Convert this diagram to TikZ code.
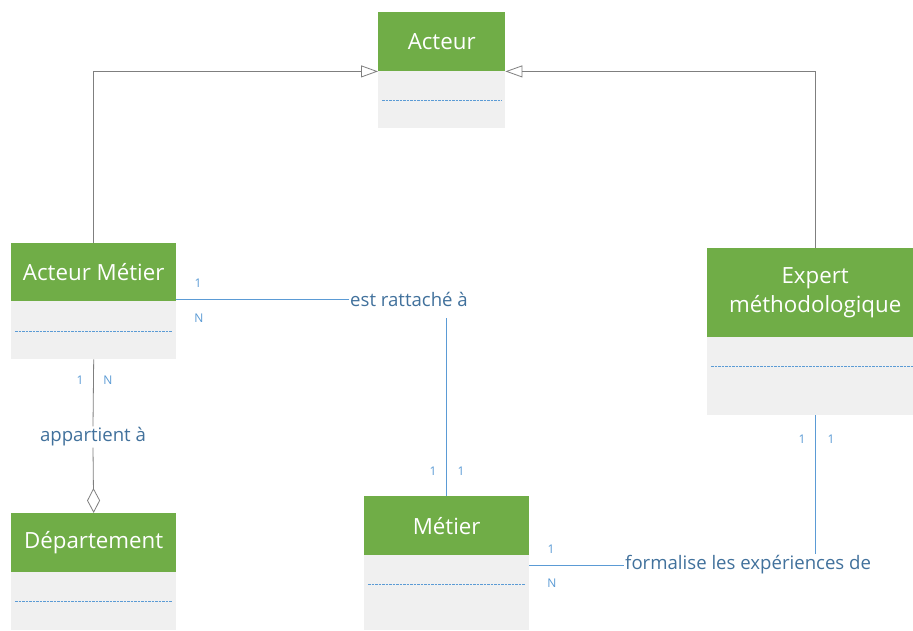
\documentclass[tikz,border=0pt]{standalone}
\usepackage{fontspec}
\setmainfont{Open Sans}
\usetikzlibrary{arrows.meta,calc}
\definecolor{hgreen}{HTML}{70AD47}
\definecolor{bgray}{HTML}{F0F0F0}
\definecolor{dblue}{HTML}{5B9BD5}
\definecolor{lblue}{HTML}{41719C}
\definecolor{lgray}{HTML}{7F7F7F}
\tikzset{
  head/.style={fill=hgreen, draw=none, anchor=north west, inner sep=0pt, text=white,
    font=\fontsize{22.3}{29}\selectfont, align=center},
  body/.style={fill=bgray, draw=none, anchor=north west, inner sep=0pt},
  sep/.style={draw=dblue, dash pattern=on 2.5pt off 1pt, line width=0.6pt},
  inh/.style={draw=lgray, line width=0.8pt, -{Triangle[open, length=17pt, width=12pt]}},
  rel/.style={draw=dblue, line width=0.9pt},
  grel/.style={draw=lgray, line width=0.8pt},
  rlabel/.style={text=lblue, font=\fontsize{18.6}{22}\selectfont, inner sep=1pt},
  card/.style={text=dblue, font=\fontsize{12}{14}\selectfont, inner sep=0pt},
}
\begin{document}
\begin{tikzpicture}[x=1pt,y=-1pt]
\useasboundingbox[fill=white] (0,0) rectangle (913,630);
% Acteur
\node[head, minimum width=127pt, minimum height=59pt] (ah) at (378,12) {Acteur};
\node[body, minimum width=127pt, minimum height=57pt] (ab) at (378,71) {};
\draw[sep] ($(ab.west)+(4,1)$) -- ($(ab.east)+(-4,1)$);
% Acteur Metier
\node[head, minimum width=165pt, minimum height=58pt] (amh) at (11,243) {Acteur Métier};
\node[body, minimum width=165pt, minimum height=58pt] (amb) at (11,301) {};
\draw[sep] ($(amb.west)+(4,1)$) -- ($(amb.east)+(-4,1)$);
% Departement
\node[head, minimum width=165pt, minimum height=59pt] (dh) at (11,513) {Département};
\node[body, minimum width=165pt, minimum height=58pt] (db) at (11,572) {};
\draw[sep] ($(db.west)+(4,0)$) -- ($(db.east)+(-4,0)$);
% Metier
\node[head, minimum width=165pt, minimum height=59pt] (mh) at (364,496) {Métier};
\node[body, minimum width=165pt, minimum height=75pt] (mb) at (364,555) {};
\draw[sep] ($(mb.north west)+(4,29)$) -- ($(mb.north east)+(-4,29)$);
% Expert
\node[head, minimum width=216pt, minimum height=89pt] (eh) at (707,248) {Expert\\méthodologique};
\node[body, minimum width=216pt, minimum height=78pt] (eb) at (707,337) {};
\draw[sep] ($(eb.north west)+(4,29)$) -- ($(eb.north east)+(0,29)$);
% inheritance
\draw[inh] (amh.north) |- (ah.south west);
\draw[inh] (eh.north) |- (ah.south east);
% est rattache a
\node[rlabel, anchor=west] (l1) at (349,299) {est rattaché à};
\coordinate (c1) at (446,318);
\draw[rel] (l1.west -| amh.east) -- (l1.west);
\draw[rel] (c1) -- (c1 |- mh.north);
\node[card] at (198,283) {1};
\node[card] at (199,318) {N};
\node[card] at (433,471) {1};
\node[card] at (461,471) {1};
% appartient a
\node[rlabel] (l2) at (93,437) {appartient à};
\draw[grel] (amb.south) -- (l2.north);
\draw[grel, -{Diamond[open, length=25pt, width=13pt]}] (l2.south) -- (dh.north);
\node[card] at (80,380) {1};
\node[card] at (108,380) {N};
% formalise
\node[rlabel, anchor=west] (l3) at (624,565) {formalise les expériences de};
\draw[rel] (mb.east |- l3.west) -- (l3.west);
\draw[rel] (eb.south) -- (eb.south |- l3.north);
\node[card] at (551,549) {1};
\node[card] at (552,583) {N};
\node[card] at (802,439) {1};
\node[card] at (831,439) {1};
\end{tikzpicture}
\end{document}
